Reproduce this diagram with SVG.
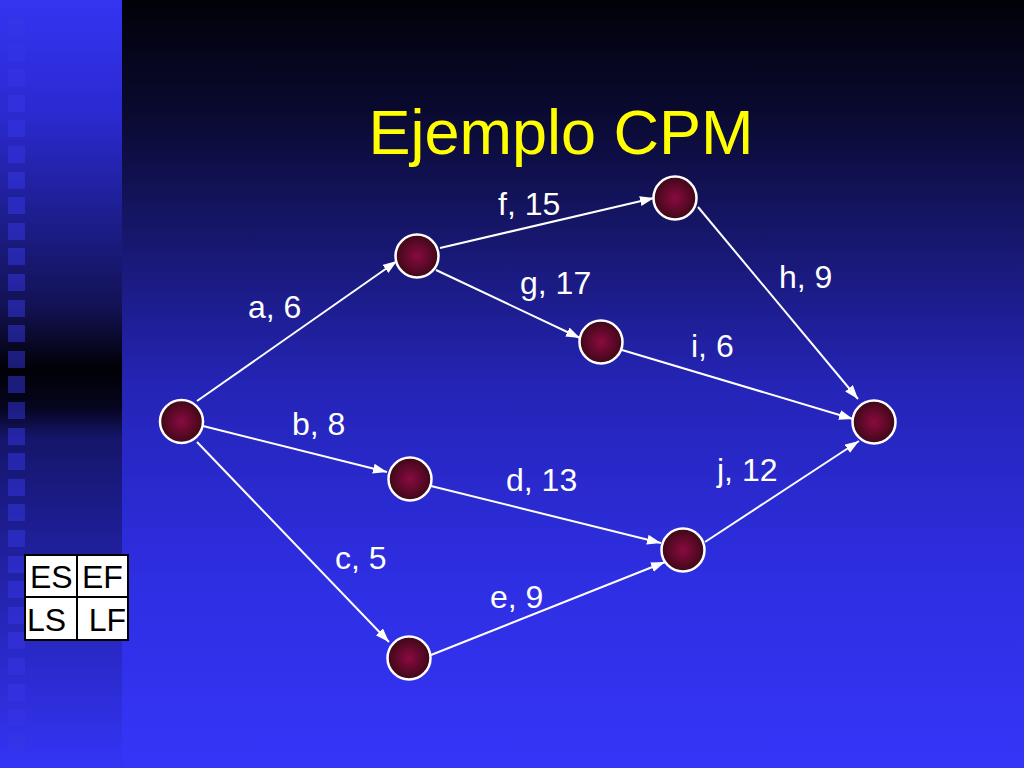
<svg xmlns="http://www.w3.org/2000/svg" width="1024" height="768" viewBox="0 0 1024 768">
  <defs>
    <linearGradient id="bgMain" x1="0" y1="0" x2="0" y2="1">
      <stop offset="0" stop-color="#010108"/>
      <stop offset="0.15" stop-color="#0a0a32"/>
      <stop offset="0.3" stop-color="#16166a"/>
      <stop offset="0.5" stop-color="#2424b6"/>
      <stop offset="0.75" stop-color="#2e2ee2"/>
      <stop offset="1" stop-color="#3535f8"/>
    </linearGradient>
    <linearGradient id="bgStrip" x1="0" y1="0" x2="0" y2="1">
      <stop offset="0" stop-color="#3434f2"/>
      <stop offset="0.15" stop-color="#2a2ad0"/>
      <stop offset="0.4" stop-color="#121254"/>
      <stop offset="0.48" stop-color="#010106"/>
      <stop offset="0.53" stop-color="#05051e"/>
      <stop offset="0.57" stop-color="#15156a"/>
      <stop offset="0.75" stop-color="#2222a8"/>
      <stop offset="1" stop-color="#3434f6"/>
    </linearGradient>
    <radialGradient id="nodeFill" cx="0.5" cy="0.5" r="0.5">
      <stop offset="0" stop-color="#8a0a42"/>
      <stop offset="1" stop-color="#3e0816"/>
    </radialGradient>
    <marker id="arr" markerUnits="userSpaceOnUse" markerWidth="16" markerHeight="12" refX="14" refY="5" orient="auto">
      <path d="M0,0 L14,5 L0,10 z" fill="#ffffff"/>
    </marker>
  </defs>
  <style>
    .node circle { fill: url(#nodeFill); stroke: #ffffff; stroke-width: 2.5; }
    .edge { stroke: #ffffff; stroke-width: 2; fill: none; marker-end: url(#arr); }
    .lbl { font-family: "Liberation Sans", Arial, sans-serif; font-size: 32px; fill: #ffffff; }
    .sq { fill: #3636e6; opacity: 0.5; }
    .key { font-family: "Liberation Sans", Arial, sans-serif; font-size: 32px; fill: #000000; }
  </style>

  <rect x="0" y="0" width="1024" height="768" fill="url(#bgMain)"/>
  <rect x="0" y="0" width="122" height="768" fill="url(#bgStrip)"/>
  <g id="squares">
    <rect class="sq" x="8" y="18" width="17" height="17"/>
    <rect class="sq" x="8" y="44" width="17" height="17"/>
    <rect class="sq" x="8" y="69" width="17" height="17"/>
    <rect class="sq" x="8" y="95" width="17" height="17"/>
    <rect class="sq" x="8" y="120" width="17" height="17"/>
    <rect class="sq" x="8" y="146" width="17" height="17"/>
    <rect class="sq" x="8" y="172" width="17" height="17"/>
    <rect class="sq" x="8" y="197" width="17" height="17"/>
    <rect class="sq" x="8" y="223" width="17" height="17"/>
    <rect class="sq" x="8" y="248" width="17" height="17"/>
    <rect class="sq" x="8" y="274" width="17" height="17"/>
    <rect class="sq" x="8" y="300" width="17" height="17"/>
    <rect class="sq" x="8" y="325" width="17" height="17"/>
    <rect class="sq" x="8" y="351" width="17" height="17"/>
    <rect class="sq" x="8" y="376" width="17" height="17"/>
    <rect class="sq" x="8" y="402" width="17" height="17"/>
    <rect class="sq" x="8" y="428" width="17" height="17"/>
    <rect class="sq" x="8" y="453" width="17" height="17"/>
    <rect class="sq" x="8" y="479" width="17" height="17"/>
    <rect class="sq" x="8" y="504" width="17" height="17"/>
    <rect class="sq" x="8" y="530" width="17" height="17"/>
    <rect class="sq" x="8" y="556" width="17" height="17"/>
    <rect class="sq" x="8" y="581" width="17" height="17"/>
    <rect class="sq" x="8" y="607" width="17" height="17"/>
    <rect class="sq" x="8" y="632" width="17" height="17"/>
    <rect class="sq" x="8" y="658" width="17" height="17"/>
    <rect class="sq" x="8" y="684" width="17" height="17"/>
    <rect class="sq" x="8" y="709" width="17" height="17"/>
    <rect class="sq" x="8" y="735" width="17" height="17"/>
  </g>

  <text x="561" y="154" text-anchor="middle" font-family="'Liberation Sans', Arial, sans-serif" font-size="63" fill="#ffff00">Ejemplo CPM</text>

  <g id="connectors">
    <line class="edge" x1="197" y1="401" x2="397" y2="261"/>
    <line class="edge" x1="203" y1="426" x2="387" y2="472"/>
    <line class="edge" x1="197" y1="442" x2="389" y2="642"/>
    <line class="edge" x1="440" y1="248" x2="654" y2="198"/>
    <line class="edge" x1="436" y1="270" x2="580" y2="338"/>
    <line class="edge" x1="698" y1="207" x2="858" y2="399"/>
    <line class="edge" x1="622" y1="350" x2="853" y2="419"/>
    <line class="edge" x1="431" y1="486" x2="661" y2="543"/>
    <line class="edge" x1="431" y1="655" x2="665" y2="562"/>
    <line class="edge" x1="705" y1="542" x2="859" y2="441"/>
  </g>

  <g id="labels">
    <text class="lbl" x="248" y="318">a, 6</text>
    <text class="lbl" x="292" y="435">b, 8</text>
    <text class="lbl" x="335" y="569">c, 5</text>
    <text class="lbl" x="506" y="491">d, 13</text>
    <text class="lbl" x="490" y="608">e, 9</text>
    <text class="lbl" x="498" y="215">f, 15</text>
    <text class="lbl" x="520" y="294">g, 17</text>
    <text class="lbl" x="779" y="288">h, 9</text>
    <text class="lbl" x="691" y="357">i, 6</text>
    <text class="lbl" x="717" y="481">j, 12</text>
  </g>

  <g id="n1" class="node"><circle cx="181.5" cy="421.5" r="21.5"/></g>
  <g id="n2" class="node"><circle cx="417" cy="256" r="21.5"/></g>
  <g id="n3" class="node"><circle cx="675" cy="198" r="21.5"/></g>
  <g id="n4" class="node"><circle cx="601" cy="342" r="21.5"/></g>
  <g id="n5" class="node"><circle cx="410" cy="479" r="21.5"/></g>
  <g id="n6" class="node"><circle cx="874" cy="422" r="21.5"/></g>
  <g id="n7" class="node"><circle cx="683" cy="550" r="21.5"/></g>
  <g id="n8" class="node"><circle cx="409" cy="658" r="21.5"/></g>

  <g id="key">
    <rect x="25" y="555" width="103" height="85" fill="#ffffff" stroke="#000000" stroke-width="2"/>
    <line x1="77" y1="555" x2="77" y2="640" stroke="#000000" stroke-width="2"/>
    <line x1="25" y1="597" x2="128" y2="597" stroke="#000000" stroke-width="2"/>
    <text class="key" x="30" y="588">ES</text>
    <text class="key" x="82" y="588">EF</text>
    <text class="key" x="27" y="631">LS</text>
    <text class="key" x="126" y="631" text-anchor="end">LF</text>
  </g>
</svg>
